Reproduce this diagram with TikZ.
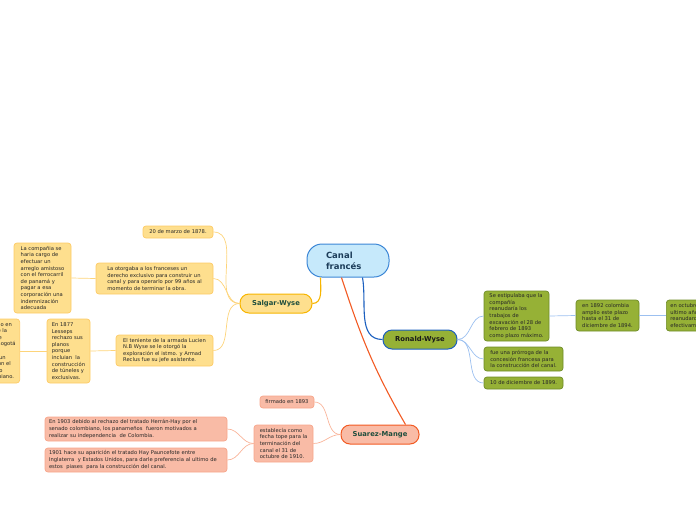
\documentclass[tikz,border=0pt]{standalone}
\usepackage{fontspec}
\setmainfont{DejaVu Sans}
\definecolor{bfill}{HTML}{C6E9FB}
\definecolor{bline}{HTML}{3B86D6}
\definecolor{yfill}{HTML}{FEDF8E}
\definecolor{ymain}{HTML}{F7B500}
\definecolor{yline}{HTML}{FDCB66}
\definecolor{yedgec}{HTML}{FDD47A}
\definecolor{gfill}{HTML}{96B136}
\definecolor{gline}{HTML}{6E8C26}
\definecolor{gmain}{HTML}{1B5FBF}
\definecolor{gedgec}{HTML}{9CC0F0}
\definecolor{sfill}{HTML}{F9BBA6}
\definecolor{smain}{HTML}{F25A23}
\definecolor{sline}{HTML}{F7A58A}
\definecolor{sedgec}{HTML}{F9B49A}
\definecolor{dgreen}{HTML}{1F4E3D}
\definecolor{dblue}{HTML}{1C3D5A}
\begin{document}
\begin{tikzpicture}[x=1pt,y=-1pt,
  base/.style={rounded corners=3pt, inner xsep=4pt, inner ysep=2pt, align=left,
    font=\fontsize{5.2}{6.6}\selectfont, text=black!85, line width=0.7pt},
  ybox/.style={base, fill=yfill, draw=yline},
  gbox/.style={base, fill=gfill, draw=gline},
  sbox/.style={base, fill=sfill, draw=sline},
  mainbox/.style={rounded corners=9pt, line width=1pt, inner sep=2pt,
    font=\bfseries\fontsize{6.8}{8}\selectfont},
  yedge/.style={draw=yedgec, line width=0.7pt},
  gedge/.style={draw=gedgec, line width=0.7pt},
  sedge/.style={draw=sedgec, line width=0.7pt}
]
\useasboundingbox (0,0) rectangle (696,520);
\clip (0,0) rectangle (696,520);

% main nodes
\node[mainbox, rounded corners=15pt, fill=bfill, draw=bline, text=dblue, align=left,
  font=\bfseries\fontsize{8.5}{11}\selectfont, text width=44pt, inner xsep=19pt,
  minimum height=33pt]
  (canal) at (348,260.5) {Canal\\francés};
\node[mainbox, fill=yfill, draw=ymain, text=dgreen, minimum width=72pt, minimum height=19pt]
  (salgar) at (276,303.5) {Salgar-Wyse};
\node[mainbox, fill=gfill, draw=gmain, text=black!90, minimum width=74pt, minimum height=19pt]
  (ronald) at (420,339.5) {Ronald-Wyse};
\node[mainbox, fill=sfill, draw=smain, text=dgreen, minimum width=78pt, minimum height=19pt]
  (suarez) at (380,434.5) {Suarez-Mange};

% Salgar-Wyse children
\node[ybox, minimum width=70pt, minimum height=12pt] (s1) at (178,232) {20 de marzo de 1878.};
\node[ybox, minimum width=117pt, minimum height=31pt] (s2) at (154.5,278.5)
  {La otorgaba a los franceses un\\derecho exclusivo para construir un\\canal y para operarlo por 99 años al\\momento de terminar la obra.};
\node[ybox, minimum width=97pt, minimum height=31pt] (s3) at (164.5,350.5)
  {El teniente de la armada Lucien\\N.B Wyse se le otorgó la\\exploración el istmo. y Armad\\Reclus fue su jefe asistente.};
\node[ybox, minimum width=57pt, minimum height=70pt] (s2a) at (42.5,278)
  {La compañia se\\haria cargo de\\efectuar un\\arreglo amistoso\\con el ferrocarril\\de panamá y\\pagar a esa\\corporación una\\indemnización\\adecuada};
\node[ybox, minimum width=43pt, minimum height=64pt] (s3a) at (68.5,351)
  {En 1877\\Lesseps\\rechazo sus\\planos\\porque\\incluian\ \ la\\construcción\\de túneles y\\exclusivas.};
\node[ybox, anchor=east, minimum height=64pt] (s3b) at (20,351)
  {Hubo trabajo en\\conjunto de la\\la capital de\\ciudad de Bogotá\\firmando\\acordando un\\convenio con el\\del gobierno\\país colombiano.};

% Ronald-Wyse children
\node[gbox, minimum width=65pt, minimum height=50pt] (r1) at (516.5,316)
  {Se estipulaba que la\\compañía\\reanudaría los\\trabajos de\\excavación el 28 de\\febrero de 1893\\como plazo máximo.};
\node[gbox, minimum width=79pt, minimum height=24pt] (r2) at (523.5,359)
  {fue una prórroga de la\\concesión francesa para\\la construcción del canal.};
\node[gbox, minimum width=79pt, minimum height=12pt] (r3) at (523.5,383)
  {10 de diciembre de 1899.};
\node[gbox, minimum width=63pt, minimum height=31pt] (r1a) at (607.5,315.5)
  {en 1892 colombia\\amplio este plazo\\hasta el 31 de\\diciembre de 1894.};
\node[gbox, anchor=west, minimum height=31pt] (r1b) at (666,315.5)
  {en octubre de 1894, el\\ultimo año del plazo, se\\reanudaron los trabajos\\efectivamente.};

% Suarez-Mange children
\node[sbox, minimum width=54pt, minimum height=12pt] (u1) at (287,402) {firmado en 1893};
\node[sbox, minimum width=59pt, minimum height=37pt] (u2) at (283.5,443.5)
  {establecía como\\fecha tope para la\\terminación del\\canal el 31 de\\octubre de 1910.};
\node[sbox, text width=174pt, minimum height=24pt] (u2a) at (136,429)
  {En 1903 debido al rechazo del tratado Herrán-Hay por el\\senado colombiano, los panameños\ \ fueron motivados a\\realizar su independencia\ \ de Colombia.};
\node[sbox, text width=174pt, minimum height=24pt] (u2b) at (136,460)
  {1901 hace su aparición el tratado Hay Pauncefote entre\\Inglaterra\ \ y Estados Unidos, para darle preferencia al ultimo de\\estos\ \ piases\ \ para la construcción del canal.};

% main connectors
\draw[draw=ymain, line width=1.1pt] ([xshift=14pt]canal.south west) to[out=-90,in=0] (salgar.east);
\draw[draw=smain, line width=1.1pt] ([xshift=35pt]canal.south west) to[out=-72,in=120] ([xshift=-14pt]suarez.north east);
\draw[draw=gmain, line width=1.1pt] ([xshift=-27pt]canal.south east) to[out=-80,in=180] (ronald.west);

% Salgar-Wyse connectors
\draw[yedge] (salgar.west) to[out=180,in=0] (s1.east);
\draw[yedge] (salgar.west) to[out=180,in=0] (s2.east);
\draw[yedge] (salgar.west) to[out=180,in=0] (s3.east);
\draw[yedge] (s2.west) -- (s2a.east);
\draw[yedge] (s3.west) -- (s3a.east);
\draw[yedge] (s3a.west) -- (s3b.east);

% Ronald-Wyse connectors
\draw[gedge] (ronald.east) to[out=0,in=180] (r1.west);
\draw[gedge] (ronald.east) to[out=0,in=180] (r2.west);
\draw[gedge] (ronald.east) to[out=0,in=180] (r3.west);
\draw[gedge] (r1.east) -- (r1a.west);
\draw[gedge] (r1a.east) -- (r1b.west);

% Suarez-Mange connectors
\draw[sedge] (suarez.west) to[out=180,in=0] (u1.east);
\draw[sedge] (suarez.west) to[out=180,in=0] (u2.east);
\draw[sedge] (u2.west) to[out=180,in=0] (u2a.east);
\draw[sedge] (u2.west) to[out=180,in=0] (u2b.east);
\end{tikzpicture}
\end{document}
